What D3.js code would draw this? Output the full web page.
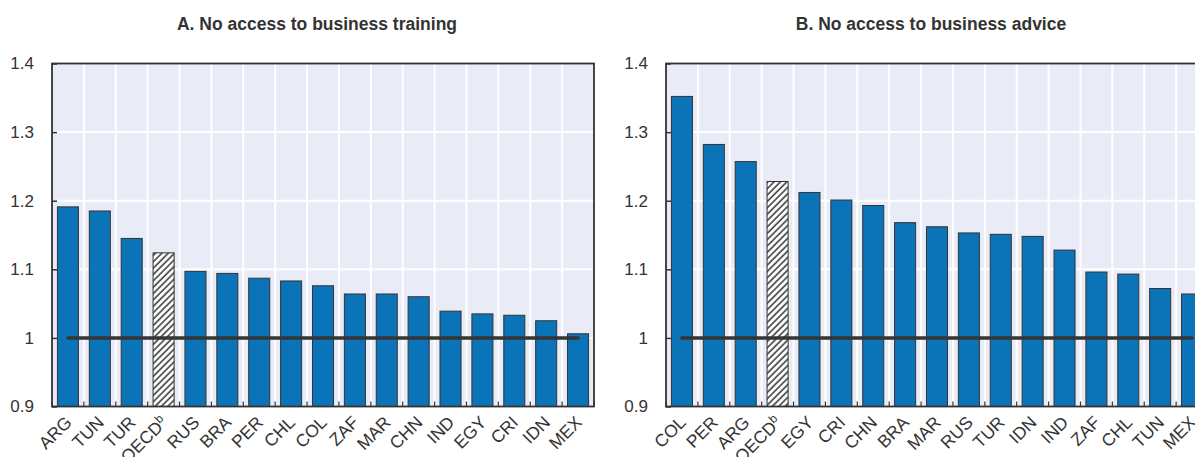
<!DOCTYPE html>
<html>
<head>
<meta charset="utf-8">
<script src="https://cdn.jsdelivr.net/npm/d3@7"></script>
<style>
  html, body { margin: 0; padding: 0; background: #fff; }
  svg { display: block; }
  text { font-family: "Liberation Sans", Arial, sans-serif; fill: #333; }
</style>
</head>
<body>
<svg id="chart" width="1195" height="457"></svg>
<script>
// Ratios by economy; OECD average drawn hatched
const catsA = ["ARG","TUN","TUR","OECD","RUS","BRA","PER","CHL","COL","ZAF","MAR","CHN","IND","EGY","CRI","IDN","MEX"];
const valsA = [1.191,1.185,1.145,1.124,1.097,1.094,1.087,1.083,1.076,1.064,1.064,1.060,1.039,1.035,1.033,1.025,1.006];

const catsB = ["COL","PER","ARG","OECD","EGY","CRI","CHN","BRA","MAR","RUS","TUR","IDN","IND","ZAF","CHL","TUN","MEX"];
const valsB = [1.352,1.282,1.257,1.228,1.212,1.201,1.193,1.168,1.162,1.153,1.151,1.148,1.128,1.096,1.093,1.072,1.064];

const yTicks = [0.9, 1.0, 1.1, 1.2, 1.3, 1.4];
const yTickLabels = ["0.9", "1", "1.1", "1.2", "1.3", "1.4"];
const refValue = 1.0;

const titles = ["A. No access to business training", "B. No access to business advice"];

const svg = d3.select("#chart");
const plotTop = 63.5, plotBottom = 406.5;
const blue = "#0b74b9", bg = "#e9ecf7", dark = "#333";

// hatch pattern for the OECD bar
const defs = svg.append("defs");
const pat = defs.append("pattern")
  .attr("id", "hatch").attr("patternUnits", "userSpaceOnUse")
  .attr("width", 4.5).attr("height", 4.5)
  .attr("patternTransform", "rotate(45)");
pat.append("rect").attr("width", 4.5).attr("height", 4.5).attr("fill", "#fff");
pat.append("line").attr("x1", 1).attr("x2", 1).attr("y1", 0).attr("y2", 4.5)
  .attr("stroke", "#4a4a4a").attr("stroke-width", 1.7);

const y = d3.scaleLinear().domain([0.9, 1.4]).range([plotBottom, plotTop]);

function panel(cats, vals, x0, x1, title) {
  const g = svg.append("g");
  const x = d3.scaleBand().domain(cats).range([x0, x1]).padding(0);
  const bw = x.bandwidth();
  const barW = bw * 0.66;

  // plot background
  g.append("rect").attr("x", x0).attr("y", plotTop).attr("width", x1 - x0).attr("height", plotBottom - plotTop).attr("fill", bg);

  // horizontal grid
  g.selectAll(".hg").data(yTicks.slice(1, -1)).join("line")
    .attr("x1", x0).attr("x2", x1).attr("y1", d => y(d)).attr("y2", d => y(d))
    .attr("stroke", "#fff").attr("stroke-width", 2);

  // vertical grid at category boundaries
  const bounds = cats.map(c => x(c)).concat([x1]);
  g.selectAll(".vg").data(bounds.slice(1, -1)).join("line")
    .attr("x1", d => d).attr("x2", d => d).attr("y1", plotTop).attr("y2", plotBottom)
    .attr("stroke", "#fff").attr("stroke-width", 2);

  // bars
  g.selectAll(".bar").data(cats).join("rect")
    .attr("x", (c) => x(c) + (bw - barW) / 2)
    .attr("width", barW)
    .attr("y", (c, i) => y(vals[i]))
    .attr("height", (c, i) => plotBottom - y(vals[i]))
    .attr("fill", c => c === "OECD" ? "url(#hatch)" : blue)
    .attr("stroke", dark).attr("stroke-width", 1);

  // reference line at 1
  g.append("line")
    .attr("x1", x(cats[0]) + bw / 2).attr("x2", x(cats[cats.length - 1]) + bw / 2)
    .attr("y1", y(refValue)).attr("y2", y(refValue))
    .attr("stroke", "#353535").attr("stroke-width", 3.5).attr("stroke-linecap", "round");

  // bottom ticks at boundaries (inward)
  g.selectAll(".bt").data(bounds).join("line")
    .attr("x1", d => d).attr("x2", d => d).attr("y1", plotBottom).attr("y2", plotBottom - 5)
    .attr("stroke", dark).attr("stroke-width", 1.2);

  // frame
  g.append("rect").attr("x", x0).attr("y", plotTop).attr("width", x1 - x0).attr("height", plotBottom - plotTop)
    .attr("fill", "none").attr("stroke", dark).attr("stroke-width", 1.8);

  // y axis
  const ya = g.append("g").attr("transform", `translate(${x0},0)`)
    .call(d3.axisLeft(y).tickValues(yTicks).tickSize(-5).tickPadding(18)
      .tickFormat((d, i) => yTickLabels[i]));
  ya.select(".domain").remove();
  ya.selectAll(".tick line").attr("stroke", dark).attr("stroke-width", 1.5);
  ya.selectAll(".tick text").attr("font-size", 17).attr("fill", "#333")
    .attr("font-family", "Liberation Sans, Arial, sans-serif");

  // category labels
  const xa = g.append("g").attr("transform", `translate(0,${plotBottom})`)
    .call(d3.axisBottom(x).tickSize(0).tickFormat(""));
  xa.select(".domain").remove();
  xa.selectAll(".tick").each(function(c) {
    const t = d3.select(this).append("text")
      .attr("text-anchor", "end")
      .attr("font-size", 17.5)
      .attr("fill", "#333")
      .attr("font-family", "Liberation Sans, Arial, sans-serif")
      .attr("transform", "translate(5,17) rotate(-45)");
    if (c === "OECD") {
      t.append("tspan").text("OECD");
      t.append("tspan").text("b").attr("font-size", 12).attr("dy", -6);
    } else {
      t.text(c);
    }
  });

  // title
  svg.append("text")
    .attr("x", (x0 + x1) / 2 - 6).attr("y", 30)
    .attr("text-anchor", "middle")
    .attr("font-size", 17.5).attr("font-weight", "bold").attr("fill", "#333")
    .text(title);
}

panel(catsA, valsA, 52, 594, titles[0]);
panel(catsB, valsB, 666, 1208, titles[1]);
</script>
</body>
</html>
